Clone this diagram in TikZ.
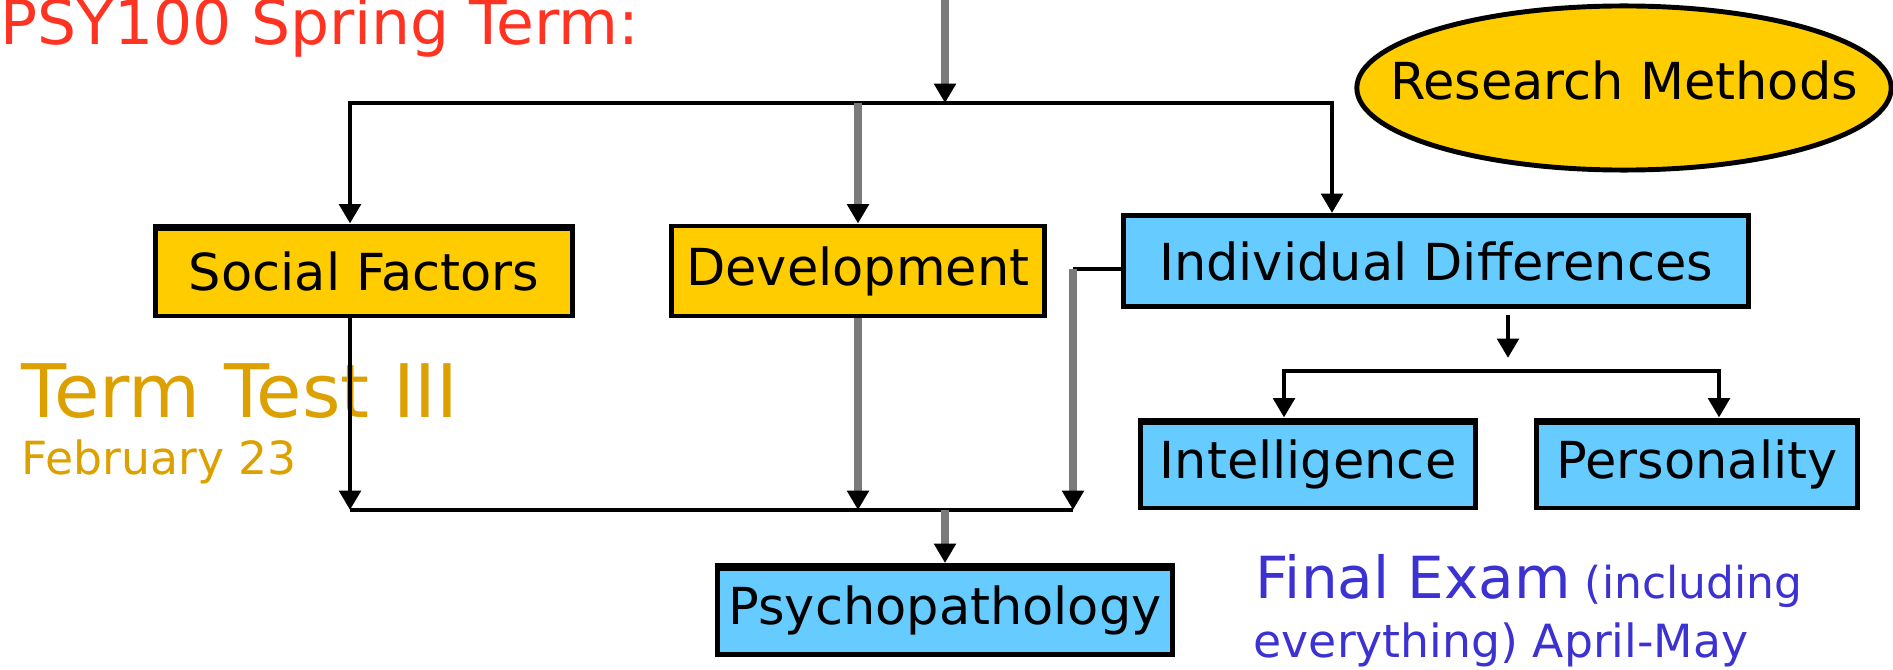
\documentclass[tikz,border=0pt]{standalone}
\usepackage{fontspec}
\setmainfont{DejaVu Sans}
\usepackage{tikz}
\usetikzlibrary{shapes.geometric, positioning, arrows.meta, calc}
\definecolor{boxyellow}{HTML}{FFCC00}
\definecolor{skyblue}{HTML}{66CCFF}
\definecolor{linegray}{HTML}{7A7A7A}
\definecolor{titlered}{HTML}{FF3322}
\definecolor{testgold}{HTML}{DCA100}
\definecolor{examblue}{HTML}{3C32D2}

\begin{document}
\begin{tikzpicture}[
      x=0.01cm, y=-0.01cm,
      >={Triangle[length=5.5pt,width=6pt,color=black]},
      topic/.style={
        draw=black,
        line width=1.4pt,
        fill=boxyellow,
        inner sep=0pt,
        minimum height=0.9cm,
        font=\fontsize{14.5}{17}\selectfont,
      },
      heavytop/.style={
        append after command={([yshift=-1.4pt]\tikzlastnode.north west) edge[draw=black,line width=1.6pt] ([yshift=-1.4pt]\tikzlastnode.north east)},
      },
      thinline/.style={line width=1.4pt},
      thickline/.style={line width=2.5pt,draw=linegray},
      caption/.style={anchor=base west,inner sep=0pt},
      ]
      \useasboundingbox (0,0) rectangle (1893,670);
      \node[caption,text=titlered,font=\fontsize{17.5}{20}\selectfont] (title) at (0,45) {PSY100 Spring Term:};
      \node[topic,shape=ellipse,inner xsep=-0.45cm,text depth=0.16cm,minimum width=5.28cm,minimum height=1.64cm] (research) at (1624,88) {Research Methods};
      \node[topic,heavytop,minimum width=4.16cm] (social) at (364,271) {Social Factors};
      \node[topic,minimum width=3.73cm] (dev) at (858,271) {Development};
      \node[topic,fill=skyblue,minimum width=6.25cm,minimum height=0.91cm] (indiv) at (1436,261) {Individual Differences};
      \node[topic,heavytop,fill=skyblue,minimum width=3.35cm,minimum height=0.88cm] (intel) at (1308,464) {Intelligence};
      \node[topic,heavytop,fill=skyblue,minimum width=3.2cm,minimum height=0.88cm] (person) at (1697,464) {Personality};
      \node[topic,heavytop,fill=skyblue,minimum width=4.55cm,minimum height=0.89cm] (psycho) at (945,610) {Psychopathology};
      \node[caption,text=testgold,font=\fontsize{21}{24}\selectfont] (test) at (21,417) {Term Test III};
      \node[caption,text=testgold,font=\fontsize{13}{16}\selectfont] (testdate) at (21,475) {February 23};
      \node[caption,text=examblue,font=\fontsize{12.5}{15}\selectfont] (exam) at (1255,598) {{\fontsize{16.5}{20}\selectfont Final Exam} (including};
      \node[caption,text=examblue,font=\fontsize{13}{15}\selectfont] (examdate) at (1253,657) {everything) April-May};
      \coordinate (start) at (945,0);
      \coordinate (upbus) at (945,103);
      \coordinate (upleft) at (350,103);
      \coordinate (upright) at (1332,103);
      \coordinate (lowleft) at (350,510);
      \coordinate (lowright) at (1073,510);
      \coordinate (stub) at ($(indiv.west)+(0,8)$);
      \coordinate (subtop) at (1508,315);
      \coordinate (subtip) at (1508,358);
      \coordinate (subleft) at (1284,371);
      \coordinate (subright) at (1719,371);
      \draw[thickline,->] (start) -- (upbus);
      \draw[thinline,<->] (upleft |- social.north) -- (upleft) -- (upright) -- (upright |- indiv.north);
      \draw[thickline,->] (dev.north |- upbus) -- (dev.north);
      \draw[thinline,->] (social.south -| lowleft) -- (lowleft);
      \draw[thickline,->] (dev.south) -- (dev.south |- lowleft);
      \draw[thinline] (stub) -- (stub -| lowright);
      \draw[thickline,->] (stub -| lowright) -- (lowright);
      \draw[thinline] (lowleft) -- (lowright);
      \draw[thickline,->] (psycho.north |- lowleft) -- (psycho.north);
      \draw[thinline,->] (subtop) -- (subtip);
      \draw[thinline,<->] (subleft |- intel.north) -- (subleft) -- (subright) -- (subright |- person.north);
    \end{tikzpicture}
\end{document}
